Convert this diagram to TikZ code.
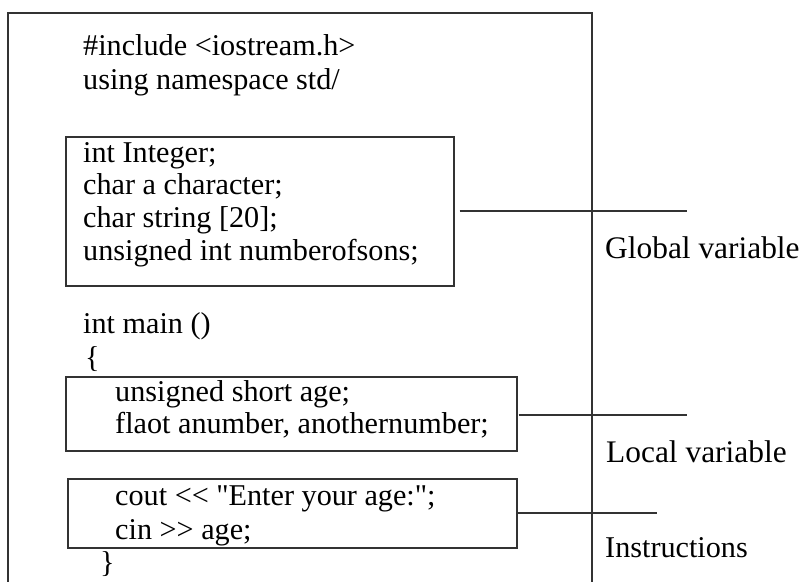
\documentclass[tikz,border=0pt]{standalone}
\usepackage{fontspec}
\setmainfont{Liberation Serif}[Ligatures=TeXOff]
\begin{document}
\begin{tikzpicture}[x=1pt,y=-1pt,
  code/.style={anchor=base west, inner sep=0pt, font=\fontsize{30.2}{34}\selectfont},
  lbl/.style={anchor=base west, inner sep=0pt, font=\fontsize{31.4}{34}\selectfont},
  codebox/.style={draw=black!80, line width=1.3pt, inner sep=0pt},
  conn/.style={draw=black!80, line width=1.4pt},
  frame/.style={draw=black!80, line width=1.4pt}]
\useasboundingbox (0,0) rectangle (805,581);
\fill[white] (0,0) rectangle (805,581);
% outer frame (open at bottom)
\coordinate (fbl) at (8,583);
\coordinate (ftl) at (8,13);
\coordinate (ftr) at (592,13);
\coordinate (fbr) at (592,583);
\draw[frame] (fbl) -- (ftl) -- (ftr) -- (fbr);
% boxes
\node[codebox, minimum width=388pt, minimum height=149pt] (gbox) at (260,211.5) {};
\node[codebox, minimum width=451pt, minimum height=74pt] (lbox) at (291.5,414) {};
\node[codebox, minimum width=449pt, minimum height=69pt] (ibox) at (292.5,513.5) {};
% code text
\node[code] (inc) at (83,55) {\#include <iostream.h>};
\node[code] (use) at (83,89) {using namespace std/};
\node[code] (g1) at (83,162) {int Integer;};
\node[code] (g2) at (83,194.5) {char a character;};
\node[code] (g3) at (83,227) {char string [20];};
\node[code] (g4) at (83,260) {unsigned int numberofsons;};
\node[code] (mn) at (83,333) {int main ()};
\node[code] (lb) at (85,367) {\{};
\node[code] (l1) at (115,401) {unsigned short age;};
\node[code] (l2) at (115,433) {flaot anumber, anothernumber;};
\node[code] (i1) at (115,505) {cout << "Enter your age:";};
\node[code] (i2) at (115,539) {cin >> age;};
\node[code] (rb) at (100,572) {\}};
% labels
\node[lbl] (gl) at (605,258) {Global variable};
\node[lbl] (ll) at (606,462) {Local variable};
\node[code] (il) at (605,557) {Instructions};
% connectors
\coordinate (gend) at (687,211);
\coordinate (lend) at (687,415);
\coordinate (iend) at (657,513);
\draw[conn] ([xshift=5pt,yshift=0.5pt]gbox.east) -- (gend);
\draw[conn] ([xshift=1pt,yshift=-1pt]lbox.east) -- (lend);
\draw[conn] ([yshift=0.5pt]ibox.east) -- (iend);
\end{tikzpicture}
\end{document}
